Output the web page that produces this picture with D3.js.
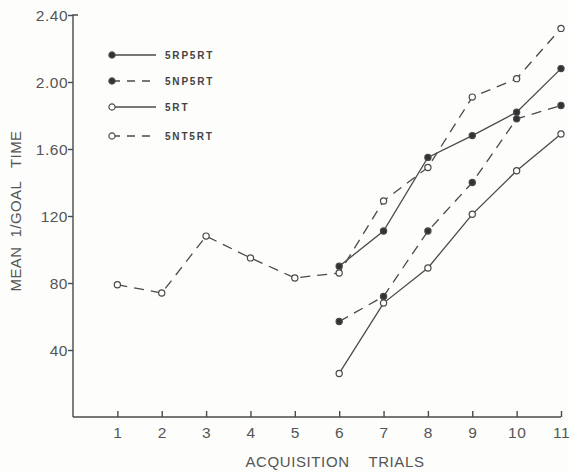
<!DOCTYPE html>
<html>
<head>
<meta charset="utf-8">
<script src="https://cdn.jsdelivr.net/npm/d3@7"></script>
<style>
  body { margin: 0; background: #fdfdfc; }
  svg { font-family: "Liberation Sans", "DejaVu Sans", sans-serif; }
</style>
</head>
<body>
<svg id="chart" width="569" height="472"></svg>
<script>
var trials = [1, 2, 3, 4, 5, 6, 7, 8, 9, 10, 11];
var lateTrials = [6, 7, 8, 9, 10, 11];

var s5NT5RT = [0.79, 0.74, 1.08, 0.95, 0.83, 0.86, 1.29, 1.49, 1.91, 2.02, 2.32];
var s5RP5RT = [0.90, 1.11, 1.55, 1.68, 1.82, 2.08];
var s5NP5RT = [0.57, 0.72, 1.11, 1.40, 1.78, 1.86];
var s5RT    = [0.26, 0.68, 0.89, 1.21, 1.47, 1.69];

var yTicks = [0.4, 0.8, 1.2, 1.6, 2.0, 2.4];
var yTickLabels = ["40", "80", "120", "1.60", "2.00", "2.40"];

var seriesList = [
    {name: "5RP5RT", x: lateTrials, y: s5RP5RT, filled: true,  dashed: false},
    {name: "5NP5RT", x: lateTrials, y: s5NP5RT, filled: true,  dashed: true},
    {name: "5RT",    x: lateTrials, y: s5RT,    filled: false, dashed: false},
    {name: "5NT5RT", x: trials,     y: s5NT5RT, filled: false, dashed: true}
];

var ink = "#4a4a4a";

var svg = d3.select("#chart");

var x = d3.scaleLinear().domain([0, 11]).range([73, 561]);
var y = d3.scaleLinear().domain([0, 2.4]).range([417, 15]);

// axes
var xAxis = d3.axisBottom(x).tickValues(trials).tickSize(-6).tickSizeOuter(0).tickPadding(10);
var gx = svg.append("g").attr("transform", "translate(0," + y(0) + ")").call(xAxis);
gx.select(".domain").attr("d", "M" + x(0) + ",0H" + x(11));

var yAxis = d3.axisLeft(y).tickValues(yTicks).tickSize(5).tickSizeOuter(0).tickPadding(0)
    .tickFormat(function(d, i){ return yTickLabels[i]; });
var gy = svg.append("g").attr("transform", "translate(" + x(0) + ",0)").call(yAxis);
gy.select(".domain").attr("d", "M0," + y(0) + "V" + y(2.4) + "h5");

svg.selectAll(".domain, .tick line").attr("stroke", ink).attr("stroke-width", 1.4);
svg.selectAll(".tick text").attr("fill", "#555").style("font-size", "15.5px").style("letter-spacing", "0.5px");
gy.selectAll(".tick text").attr("dy", "0.36em");

// axis titles
svg.append("text")
    .attr("x", 335).attr("y", 467)
    .attr("text-anchor", "middle")
    .attr("fill", "#555")
    .style("font-size", "15px")
    .style("letter-spacing", "0.6px")
    .attr("xml:space", "preserve")
    .text("ACQUISITION    TRIALS");

svg.append("text")
    .attr("transform", "translate(21,211) rotate(-90)")
    .attr("text-anchor", "middle")
    .attr("fill", "#555")
    .style("font-size", "15px")
    .style("letter-spacing", "0.4px")
    .attr("xml:space", "preserve")
    .text("MEAN  1/GOAL   TIME");

// series
var line = d3.line()
    .x(function(d){ return x(d[0]); })
    .y(function(d){ return y(d[1]); });

seriesList.forEach(function(s){
    var pts = s.x.map(function(t, i){ return [t, s.y[i]]; });
    svg.append("path")
        .datum(pts)
        .attr("d", line)
        .attr("fill", "none")
        .attr("stroke", ink)
        .attr("stroke-width", 1.3)
        .attr("stroke-dasharray", s.dashed ? "10,7" : null);
    svg.selectAll(null)
        .data(pts)
        .enter().append("circle")
        .attr("cx", function(d){ return x(d[0]); })
        .attr("cy", function(d){ return y(d[1]); })
        .attr("r", 3.1)
        .attr("fill", s.filled ? "#333" : "#fdfdfc")
        .attr("stroke", ink)
        .attr("stroke-width", 1.2);
});

// legend
var legend = svg.append("g");
var rows = legend.selectAll("g")
    .data(seriesList)
    .enter().append("g")
    .attr("transform", function(d, i){ return "translate(112," + [55, 81, 107, 136][i] + ")"; });

rows.append("line")
    .attr("x1", 0).attr("x2", 44)
    .attr("stroke", ink)
    .attr("stroke-width", 1.3)
    .attr("stroke-dasharray", function(d){ return d.dashed ? "8,7" : null; });
rows.append("circle")
    .attr("r", 3.1)
    .attr("fill", function(d){ return d.filled ? "#333" : "#fdfdfc"; })
    .attr("stroke", ink)
    .attr("stroke-width", 1.2);
rows.append("text")
    .attr("x", 53).attr("dy", "0.36em")
    .attr("fill", "#444")
    .style("font-size", "10px")
    .style("font-weight", "bold")
    .style("letter-spacing", "1.8px")
    .text(function(d){ return d.name; });
</script>
</body>
</html>
